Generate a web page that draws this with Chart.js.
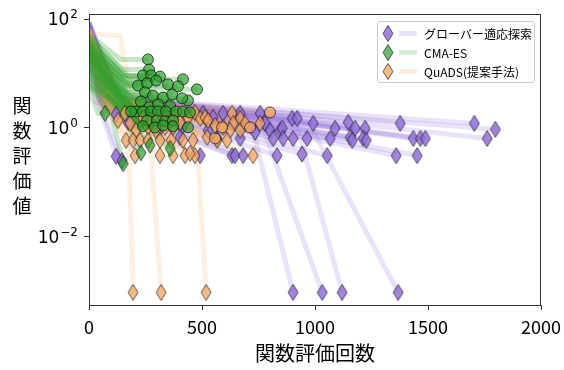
<!DOCTYPE html>
<html>
<head>
<meta charset="utf-8">
<script src="https://cdn.jsdelivr.net/npm/chart.js@4.4.0/dist/chart.umd.min.js"></script>
<style>
  body { margin: 0; background: #fff; }
  #wrap { position: relative; width: 564px; height: 370px; }
  #ytitle { position: absolute; left: 10px; top: 92px; width: 24px; text-align: center;
            font: 19px "Noto Sans CJK JP"; line-height: 25px; color: #000; }
  #legend { position: absolute; left: 377px; top: 21px; width: 156px; height: 60px;
            border: 1px solid #ccc; border-radius: 3px; background: rgba(255,255,255,0.8);
            font: 12px "Noto Sans CJK JP"; color: #000; }
  .row { position: absolute; left: 0; height: 19px; display: flex; align-items: center; white-space: nowrap; }
  .row svg { margin-right: 6px; }
</style>
</head>
<body>
<div id="wrap">
  <canvas id="chart" width="564" height="370"></canvas>
  <div id="ytitle">関<br>数<br>評<br>価<br>値</div>
  <div id="legend"></div>
</div>
<script>
// runs: [evaluations, function value] points, last point = final result
const groverRuns = [
  [[0,60],[30,3.0],[120,1.77]], [[0,75],[40,3.2],[173,1.26]], [[0,55],[50,2.2],[120,0.30]],
  [[0,65],[60,2.0],[146,0.25]], [[0,80],[50,3.4],[257,1.49]], [[0,70],[60,3.0],[359,1.21]],
  [[0,50],[70,2.6],[412,1.02]], [[0,85],[60,3.6],[505,1.85]], [[0,65],[70,3.3],[549,1.56]],
  [[0,72],[80,3.5],[593,1.85]], [[0,90],[90,3.6],[669,1.85]], [[0,58],[100,3.4],[757,1.85]],
  [[0,68],[80,3.0],[779,1.21]], [[0,76],[90,2.8],[801,0.90]], [[0,62],[100,3.1],[846,0.90]],
  [[0,80],[110,3.5],[899,1.49]], [[0,70],[120,3.3],[921,1.49]], [[0,55],[60,2.7],[527,0.90]],
  [[0,66],[70,2.5],[567,0.64]], [[0,74],[80,2.9],[669,0.64]], [[0,60],[90,3.0],[735,0.83]],
  [[0,85],[100,3.2],[815,0.64]], [[0,64],[110,3.0],[903,0.64]], [[0,58],[70,2.4],[492,0.31]],
  [[0,70],[80,2.6],[633,0.31]], [[0,52],[90,2.3],[646,0.31]], [[0,78],[100,2.8],[682,0.31]],
  [[0,66],[120,2.9],[832,0.31]], [[0,72],[100,3.2],[855,0.98]], [[0,60],[110,2.9],[859,0.64]],
  [[0,82],[110,3.5],[992,1.21]], [[0,68],[120,3.3],[1089,0.98]], [[0,75],[100,3.6],[1147,1.26]],
  [[0,63],[130,3.2],[1178,0.98]], [[0,88],[120,3.4],[1222,0.98]], [[0,70],[110,3.6],[1377,1.21]],
  [[0,80],[130,3.5],[1705,1.21]], [[0,66],[120,3.3],[1798,0.94]], [[0,74],[130,3.1],[965,0.64]],
  [[0,59],[120,3.0],[1067,0.64]], [[0,84],[140,3.3],[1156,0.67]], [[0,69],[110,3.0],[1165,0.59]],
  [[0,77],[130,3.4],[1213,0.64]], [[0,62],[140,3.2],[1227,0.59]], [[0,71],[120,3.5],[1435,0.64]],
  [[0,86],[130,3.4],[1466,0.64]], [[0,65],[140,3.3],[1488,0.64]], [[0,73],[130,3.6],[1762,0.64]],
  [[0,61],[120,2.9],[943,0.33]], [[0,79],[110,3.1],[1054,0.31]], [[0,67],[130,3.2],[1359,0.31]],
  [[0,82],[120,3.4],[1452,0.31]], [[0,57],[50,2.8],[314,0.98]], [[0,63],[60,2.6],[403,0.67]],
  [[0,70],[90,3.0],[726,0.9],[903,0.00095]], [[0,64],[100,3.2],[770,1.0],[1032,0.00095]],
  [[0,78],[110,3.4],[921,1.1],[1120,0.00095]], [[0,60],[120,3.3],[987,0.95],[1368,0.00095]]
];

const cmaCircleRuns = [
  [[0,52],[140,18.1],[261,18.1]], [[0,45],[150,11.8],[266,11.8]], [[0,40],[150,9.2],[239,9.2]],
  [[0,35],[160,9.2],[275,9.2]], [[0,48],[175,8.8],[314,8.8]], [[0,30],[170,7.8],[416,7.8]],
  [[0,38],[165,6.0],[217,6.0]], [[0,28],[160,6.6],[257,6.6]], [[0,42],[170,7.4],[297,7.4]],
  [[0,25],[175,6.3],[350,6.3]], [[0,33],[180,5.8],[394,5.8]], [[0,22],[185,5.1],[478,5.1]],
  [[0,20],[190,3.2],[438,3.2]], [[0,36],[170,4.5],[248,4.5]], [[0,18],[175,3.9],[283,3.9]],
  [[0,30],[185,3.6],[328,3.6]], [[0,15],[180,4.1],[368,4.1]], [[0,26],[195,3.5],[412,3.5]],
  [[0,12],[180,3.06],[230,3.06]], [[0,24],[190,2.4],[266,2.4]], [[0,10],[185,2.7],[306,2.7]],
  [[0,32],[200,2.5],[359,2.5]], [[0,8],[170,2.0],[208,2.0]], [[0,20],[190,2.0],[239,2.0]],
  [[0,14],[195,2.0],[275,2.0]], [[0,27],[200,2.0],[306,2.0]], [[0,6],[180,2.0],[341,2.0]],
  [[0,18],[205,2.0],[385,2.0]], [[0,11],[200,2.0],[416,2.0]], [[0,7],[150,2.0],[186,2.0]],
  [[0,22],[210,1.92],[447,1.92]], [[0,9],[200,1.37],[257,1.37]], [[0,16],[210,1.37],[301,1.37]],
  [[0,13],[215,1.32],[337,1.32]], [[0,28],[220,1.37],[372,1.37]], [[0,6],[200,1.07],[239,1.07]],
  [[0,12],[215,1.02],[292,1.02]], [[0,19],[220,1.11],[328,1.11]], [[0,8],[210,1.07],[372,1.07]],
  [[0,24],[230,1.02],[438,1.02]]
];

const cmaDiamondRuns = [
  [[0,5],[40,1.85],[71,1.85]], [[0,10],[150,1.8],[230,0.35]], [[0,14],[170,1.6],[270,0.48]],
  [[0,6],[100,1.7],[151,0.22]], [[0,20],[200,1.5],[359,0.42]]
];

const quadsRuns = [
  [[0,40],[60,3.0],[159,1.85]], [[0,30],[50,2.6],[128,1.37]], [[0,45],[70,2.8],[182,1.21]],
  [[0,35],[80,2.5],[208,0.90]], [[0,50],[90,3.0],[261,1.02]], [[0,38],[100,2.7],[297,0.90]],
  [[0,62],[40,52],[140,50],[150,22],[200,3.2],[337,1.02]], [[0,42],[100,2.9],[372,1.02]],
  [[0,33],[120,3.1],[403,1.26]], [[0,48],[110,3.4],[438,1.56]], [[0,60],[130,3.6],[469,1.92]],
  [[0,28],[70,2.2],[164,0.59]], [[0,36],[80,2.4],[195,0.59]], [[0,44],[90,2.6],[226,0.59]],
  [[0,31],[100,2.3],[261,0.59]], [[0,52],[110,2.8],[314,0.59]], [[0,39],[120,2.7],[363,0.59]],
  [[0,47],[120,2.9],[416,0.59]], [[0,34],[130,2.6],[460,0.59]], [[0,41],[90,2.2],[204,0.31]],
  [[0,29],[100,2.0],[314,0.31]], [[0,53],[110,2.5],[372,0.31]], [[0,37],[120,2.4],[425,0.31]],
  [[0,46],[130,2.6],[469,0.31]], [[0,58],[120,3.3],[492,1.49]], [[0,43],[130,3.1],[514,1.56]],
  [[0,50],[140,3.5],[633,1.85]], [[0,36],[130,3.2],[669,1.49]], [[0,62],[120,3.4],[638,1.21]],
  [[0,40],[110,2.9],[593,1.02]], [[0,55],[140,3.0],[624,0.90]], [[0,32],[120,2.8],[669,0.90]],
  [[0,48],[150,3.3],[757,1.21]], [[0,44],[130,2.7],[567,0.59]], [[0,57],[140,2.9],[611,0.59]],
  [[0,38],[150,2.5],[726,0.31]], [[0,49],[120,2.3],[447,0.34]], [[0,35],[120,3.0],[527,1.37]],
  [[0,60],[140,3.2],[558,1.11]], [[0,42],[150,3.3],[691,1.21]], [[0,47],[90,2.9],[270,1.37]],
  [[0,33],[80,2.8],[239,1.49]], [[0,56],[100,3.1],[328,1.49]], [[0,39],[110,3.0],[359,1.37]],
  [[0,51],[130,2.8],[523,0.67]],
  [[0,44],[60,2.4],[173,1.0],[195,0.00095]], [[0,52],[90,2.6],[266,1.0],[319,0.00095]],
  [[0,40],[120,2.8],[474,1.0],[518,0.00095]]
];

const quadsCircleRuns = [
  [[0,45],[160,3.4],[801,1.92]], [[0,54],[150,3.1],[713,1.02]],
  [[0,37],[140,2.9],[589,1.02]], [[0,49],[130,2.7],[558,0.64]]
];

const seriesNames = ['グローバー適応探索', 'CMA-ES', 'QuADS(提案手法)'];
const yTickValues = [0.01, 1, 100];
const yTickExps = ['\u22122', '0', '2'];
const xTickStep = 500;

const PURPLE = '147,112,219', GREEN = '44,160,44', ORANGE = '244,164,96';

function diamond(rgb, a) {
  const c = document.createElement('canvas');
  c.width = 12; c.height = 18;
  const g = c.getContext('2d');
  g.beginPath();
  g.moveTo(6, 1); g.lineTo(11, 9); g.lineTo(6, 17); g.lineTo(1, 9); g.closePath();
  g.fillStyle = `rgba(${rgb},${a})`; g.fill();
  g.strokeStyle = 'rgba(0,0,0,0.6)'; g.lineWidth = 1; g.stroke();
  return c;
}

function lineSets(runs, rgb, a) {
  return runs.map(r => ({
    data: r.map(p => ({ x: p[0], y: p[1] })),
    showLine: true, pointRadius: 0, borderWidth: 5,
    borderColor: `rgba(${rgb},${a})`, borderJoinStyle: 'round', clip: 0
  }));
}

function markerSet(runs, rgb, a, circle) {
  const last = runs.map(r => ({ x: r[r.length - 1][0], y: r[r.length - 1][1] }));
  if (circle) {
    return { data: last, showLine: false, pointStyle: 'circle', pointRadius: 5.5,
      pointBackgroundColor: `rgba(${rgb},${a})`, pointBorderColor: 'rgba(0,0,0,0.65)', pointBorderWidth: 1 };
  }
  return { data: last, showLine: false, pointStyle: diamond(rgb, a), pointRadius: 5 };
}

// first dataset is drawn on top
const datasets = [
  markerSet(cmaCircleRuns, GREEN, 0.7, true),
  markerSet(cmaDiamondRuns, GREEN, 0.7, false),
  markerSet(quadsCircleRuns, ORANGE, 0.75, true),
  markerSet(quadsRuns, ORANGE, 0.75, false),
  markerSet(groverRuns, PURPLE, 0.85, false),
  ...lineSets(cmaCircleRuns.concat(cmaDiamondRuns), GREEN, 0.26),
  ...lineSets(quadsRuns.concat(quadsCircleRuns), ORANGE, 0.18),
  ...lineSets(groverRuns, PURPLE, 0.2)
];

const frame = {
  id: 'frame',
  afterDraw(chart) {
    const { ctx, chartArea: a } = chart;
    const y = chart.scales.y;
    ctx.save();
    ctx.strokeStyle = '#333';
    ctx.lineWidth = 1;
    ctx.strokeRect(Math.round(a.left) + 0.5, Math.round(a.top) + 0.5,
      Math.round(a.right - a.left) - 1, Math.round(a.bottom - a.top));
    ctx.fillStyle = '#000';
    ctx.textAlign = 'right';
    ctx.textBaseline = 'middle';
    yTickValues.forEach((v, i) => {
      const py = y.getPixelForValue(v);
      ctx.font = '12px "DejaVu Sans"';
      const w = ctx.measureText(yTickExps[i]).width;
      ctx.fillText(yTickExps[i], 78, py - 4);
      ctx.font = '17px "DejaVu Sans"';
      ctx.fillText('10', 77 - w, py + 1.5);
    });
    ctx.restore();
  }
};

new Chart(document.getElementById('chart'), {
  type: 'scatter',
  data: { datasets },
  options: {
    responsive: false,
    animation: false,
    events: [],
    layout: { padding: { left: 0, top: 14, right: 23, bottom: 0 } },
    plugins: { legend: { display: false }, tooltip: { enabled: false } },
    scales: {
      x: {
        type: 'linear', min: 0, max: 2000,
        ticks: { stepSize: xTickStep, color: '#000', padding: 6, callback: v => String(v),
                 font: { family: '"Noto Sans CJK JP"', size: 18 } },
        grid: { display: true, drawOnChartArea: false, drawTicks: true, tickLength: 5, tickColor: '#333' },
        border: { display: false },
        title: { display: true, text: '関数評価回数', color: '#000',
                 font: { family: '"Noto Sans CJK JP"', size: 20 }, padding: { top: 0, bottom: 5 } },
        afterFit(s) { s.height = 65; s.paddingLeft = 0; s.paddingRight = 0; }
      },
      y: {
        type: 'logarithmic', min: 0.000558, max: 123.6,
        afterBuildTicks(s) { s.ticks = yTickValues.map(v => ({ value: v })); },
        ticks: { display: false },
        grid: { display: true, drawOnChartArea: false, drawTicks: true, tickLength: 5, tickColor: '#333' },
        border: { display: false },
        afterFit(s) { s.width = 89; }
      }
    }
  },
  plugins: [frame]
});

// legend
const legendColors = [PURPLE, GREEN, ORANGE];
const legendTops = [2, 21, 40];
const legend = document.getElementById('legend');
seriesNames.forEach((name, i) => {
  const rgb = legendColors[i];
  const a = i === 0 ? 0.85 : (i === 1 ? 0.7 : 0.75);
  const row = document.createElement('div');
  row.className = 'row';
  row.style.top = legendTops[i] + 'px';
  row.innerHTML =
    `<svg width="36" height="19" style="margin-left:4px"><rect x="17" y="7" width="18" height="5" fill="rgba(${rgb},0.2)"/>` +
    `<polygon points="6,1.5 11,9.5 6,17.5 1,9.5" fill="rgba(${rgb},${a})" stroke="rgba(0,0,0,0.6)" stroke-width="1"/></svg>` +
    `<span>${name}</span>`;
  legend.appendChild(row);
});
</script>
</body>
</html>
